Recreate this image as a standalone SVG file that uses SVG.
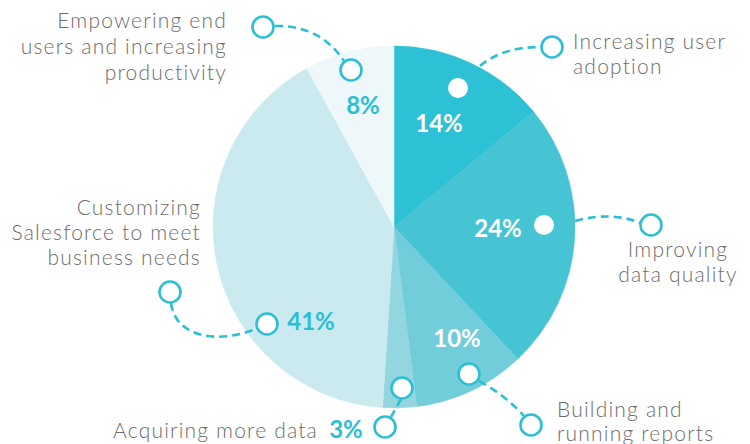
<svg xmlns="http://www.w3.org/2000/svg" width="750" height="444" viewBox="0 0 750 444">
<style>
.lbl{font-family:Lato,"Liberation Sans",sans-serif;font-weight:300;font-size:21px;fill:#6d6d6d;letter-spacing:1.2px}
.pctw{font-family:Lato,"Liberation Sans",sans-serif;font-weight:700;font-size:24px;fill:#ffffff}
.pctt{font-family:Lato,"Liberation Sans",sans-serif;font-weight:700;font-size:24px;fill:#2bbfd5}
.conn{fill:none;stroke:#2bbfd5;stroke-width:2.6;stroke-dasharray:8 5}
.ring{fill:#ffffff;stroke:#2bbfd5;stroke-width:2.6}
.dot{fill:#ffffff}
</style>
<rect width="750" height="444" fill="#ffffff"/>
<g id="pie">
<path id="s14" d="M394 227 L394 46 A181 181 0 0 1 533.5 111.6 Z" fill="#2cc1d5" stroke="#2cc1d5" stroke-width="0.5"/>
<path id="s24" d="M394 227 L533.5 111.6 A181 181 0 0 1 517.9 358.9 Z" fill="#46c4d4" stroke="#46c4d4" stroke-width="0.5"/>
<path id="s10" d="M394 227 L517.9 358.9 A181 181 0 0 1 416.7 406.6 Z" fill="#71cdd9" stroke="#71cdd9" stroke-width="0.5"/>
<path id="s3" d="M394 227 L416.7 406.6 A181 181 0 0 1 382.6 407.6 Z" fill="#94d6df" stroke="#94d6df" stroke-width="0.5"/>
<path id="s41" d="M394 227 L382.6 407.6 A181 181 0 0 1 306.8 68.4 Z" fill="#cbeaf0" stroke="#cbeaf0" stroke-width="0.5"/>
<path id="s8" d="M394 227 L306.8 68.4 A181 181 0 0 1 394 46 Z" fill="#eef7fa" stroke="#eef7fa" stroke-width="0.5"/>
</g>
<g id="connectors">
<path class="conn" d="M275 26 Q320 25 344 61"/>
<path class="conn" d="M480 66 Q502 47 541 47"/>
<path class="conn" d="M575 221 Q612 211 640 223"/>
<path class="conn" d="M479 381 Q505 395 524 416"/>
<path class="conn" d="M401 399 L391 417"/>
<path class="conn" d="M171 303 C175 336 215 345 256 329"/>
</g>
<g id="n-empowering">
<circle class="ring" cx="263" cy="27" r="10.5"/>
<circle class="ring" cx="351" cy="70" r="10.5"/>
<text class="pctt" x="363" y="114" text-anchor="middle">8%</text>
<text class="lbl" x="227" y="28" text-anchor="end">Empowering end</text>
<text class="lbl" x="227" y="54" text-anchor="end">users and increasing</text>
<text class="lbl" x="227" y="80" text-anchor="end">productivity</text>
</g>
<g id="n-adoption">
<circle class="dot" cx="458" cy="88" r="10"/>
<circle class="ring" cx="552" cy="47" r="10.5"/>
<text class="pctw" x="439" y="132" text-anchor="middle">14%</text>
<text class="lbl" x="573" y="49">Increasing user</text>
<text class="lbl" x="573" y="74">adoption</text>
</g>
<g id="n-quality">
<circle class="dot" cx="544" cy="225" r="10"/>
<circle class="ring" cx="651" cy="225" r="10.5"/>
<text class="pctw" x="498" y="237" text-anchor="middle">24%</text>
<text class="lbl" x="678" y="257" text-anchor="middle">Improving</text>
<text class="lbl" x="678" y="282" text-anchor="middle">data quality</text>
</g>
<g id="n-reports">
<circle class="ring" cx="469" cy="374" r="10.5"/>
<circle class="ring" cx="531" cy="425" r="10.5"/>
<text class="pctw" x="457" y="347" text-anchor="middle">10%</text>
<text class="lbl" x="557" y="417">Building and</text>
<text class="lbl" x="557" y="441">running reports</text>
</g>
<g id="n-acquiring">
<circle class="ring" cx="402" cy="388" r="10.5"/>
<circle class="ring" cx="385" cy="427" r="10.5"/>
<text class="pctt" x="346" y="438" text-anchor="middle">3%</text>
<text class="lbl" x="318" y="438" text-anchor="end">Acquiring more data</text>
</g>
<g id="n-customizing">
<circle class="ring" cx="170" cy="292" r="10.5"/>
<circle class="ring" cx="267" cy="324" r="10.5"/>
<text class="pctt" x="311" y="330" text-anchor="middle">41%</text>
<text class="lbl" x="201" y="215" text-anchor="end">Customizing</text>
<text class="lbl" x="201" y="240" text-anchor="end">Salesforce to meet</text>
<text class="lbl" x="201" y="265" text-anchor="end">business needs</text>
</g>
</svg>
